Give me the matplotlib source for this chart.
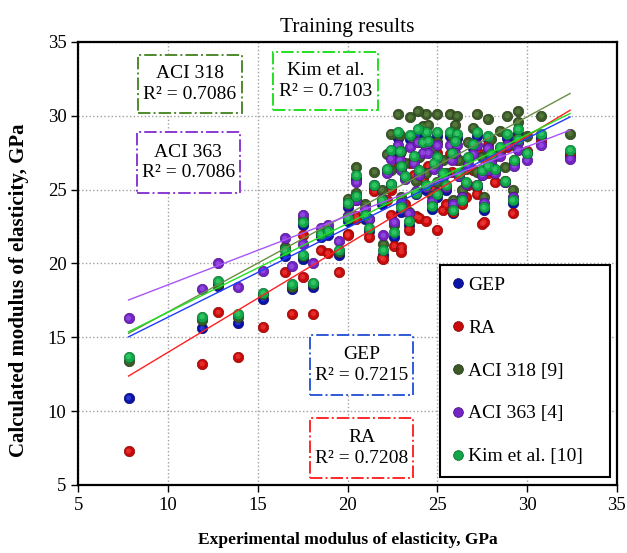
import numpy as np
import matplotlib.pyplot as plt
from matplotlib.lines import Line2D
from matplotlib.patches import Rectangle

plt.rcParams['font.family'] = ['Liberation Serif', 'DejaVu Serif']

# experimental modulus (x) and predictions of each model (GPa)
exp_E = [7.8, 11.9, 12.8, 13.9, 15.3, 16.5, 16.9, 17.5, 17.5, 18.1, 18.5, 18.9, 19.5,
         20.0, 20.0, 20.5, 20.5,
         21.0, 21.5, 21.9, 22.0, 22.4, 22.4, 22.6, 22.8, 22.9, 23.0, 23.0, 23.2, 23.4,
         23.7, 23.8, 24.0, 24.2, 24.4, 24.4, 24.5, 24.7, 25.0, 25.0, 25.0, 25.3, 25.5,
         25.7, 25.8, 26.1, 26.2, 26.4, 26.7, 27.0, 27.2, 27.2, 27.5, 27.6, 27.8, 28.0,
         28.2, 28.5, 28.8, 29.2, 29.3, 29.5, 29.5, 30.0, 30.8, 32.4,
         23.5, 24.8, 26.0, 26.6, 27.8, 22.2, 21.2, 25.9, 28.9, 23.9]
gep = [10.9, 15.6, 18.5, 16.0, 17.6, 20.5, 18.3, 22.6, 20.3, 18.4, 21.8, 21.9, 20.6,
       23.8, 22.9, 25.7, 24.3,
       23.0, 25.1, 24.0, 20.6, 27.4, 25.2, 21.8, 28.5, 27.5, 26.5, 23.5, 25.8, 22.6,
       27.1, 24.7, 26.1, 28.2, 28.5, 25.0, 28.0, 23.7, 28.6, 27.0, 24.5, 25.9, 25.0,
       28.6, 27.4, 28.5, 25.9, 24.1, 27.0, 27.8, 28.6, 25.2, 26.0, 23.6, 28.4, 27.2,
       26.3, 27.8, 25.5, 24.1, 26.8, 28.8, 28.3, 27.5, 28.5, 27.3,
       28.4, 26.6, 28.0, 25.3, 26.5, 26.3, 22.2, 23.4, 28.5, 28.7]
ra = [7.3, 13.2, 16.7, 13.7, 15.7, 19.4, 16.6, 21.9, 19.1, 16.6, 20.9, 20.7, 19.4,
      22.0, 21.9, 23.2, 23.0,
      23.2, 24.9, 20.4, 20.3, 25.0, 23.3, 21.2, 26.5, 27.0, 21.1, 20.8, 24.0, 22.3,
      26.0, 23.2, 23.1, 25.7, 27.8, 22.9, 26.6, 24.0, 27.5, 24.7, 22.3, 23.6, 24.0,
      27.4, 26.2, 27.0, 24.2, 24.0, 25.3, 26.3, 27.6, 24.7, 22.7, 22.8, 28.0, 26.8,
      25.5, 27.5, 25.6, 23.4, 27.0, 28.5, 28.2, 27.6, 28.2, 27.4,
      26.8, 25.0, 27.2, 24.5, 26.1, 24.3, 21.8, 23.5, 27.9, 28.2]
aci318 = [13.4, 16.2, 18.6, 16.4, 17.9, 21.1, 18.4, 23.0, 20.5, 18.6, 22.0, 22.3, 20.8,
          24.4, 23.2, 26.5, 24.8,
          24.0, 26.2, 25.0, 21.3, 28.8, 26.3, 22.6, 30.1, 28.7, 27.6, 24.5, 26.8, 23.5,
          28.3, 25.6, 27.2, 29.3, 30.1, 26.1, 29.4, 24.6, 30.1, 28.2, 25.5, 27.0, 26.1,
          30.1, 28.6, 30.0, 27.0, 25.0, 28.2, 29.2, 30.1, 26.2, 27.2, 24.5, 29.8, 28.4,
          27.3, 29.0, 26.5, 25.0, 28.0, 30.3, 29.6, 28.6, 30.0, 28.8,
          29.9, 27.8, 29.4, 26.4, 27.6, 27.4, 23.0, 24.3, 30.0, 30.3]
aci363 = [16.3, 18.3, 20.0, 18.4, 19.5, 21.7, 19.8, 23.3, 21.3, 20.0, 22.4, 22.6, 21.5,
          24.0, 23.2, 25.5, 24.3,
          23.7, 25.3, 24.4, 21.9, 27.1, 25.4, 22.8, 28.0, 27.0, 26.3, 24.1, 25.7, 23.4,
          26.8, 24.9, 26.0, 27.5, 28.0, 25.2, 27.5, 24.2, 28.0, 26.7, 24.8, 25.9, 25.2,
          28.0, 27.0, 28.0, 25.9, 24.5, 26.7, 27.4, 28.0, 25.3, 26.0, 24.1, 27.8, 26.8,
          26.1, 27.3, 25.5, 24.5, 26.6, 28.2, 27.7, 27.0, 28.0, 27.1,
          27.9, 26.4, 27.5, 25.4, 26.3, 26.1, 23.0, 24.0, 28.0, 28.2]
kim = [13.7, 16.4, 18.8, 16.6, 18.0, 20.9, 18.6, 22.8, 20.6, 18.7, 22.0, 22.2, 20.9,
       24.1, 23.1, 26.0, 24.6,
       23.3, 25.3, 24.3, 20.9, 27.7, 25.4, 22.1, 28.9, 27.6, 26.6, 23.8, 25.9, 22.9,
       27.3, 24.8, 26.3, 28.2, 28.9, 25.3, 28.3, 23.9, 28.9, 27.2, 24.7, 26.1, 25.3,
       28.9, 27.5, 28.8, 26.1, 24.3, 27.2, 28.1, 28.9, 25.3, 26.3, 23.8, 28.6, 27.4,
       26.4, 27.9, 25.6, 24.3, 27.0, 29.1, 28.4, 27.5, 28.8, 27.7,
       28.7, 26.8, 28.3, 25.5, 26.6, 26.4, 22.4, 23.6, 28.8, 29.1]

series = ['GEP', 'RA', 'ACI 318 [9]', 'ACI 363 [4]', 'Kim et al. [10]']
box_names = ['GEP', 'RA', 'ACI 318', 'ACI 363', 'Kim et al.']
r2 = [0.7215, 0.7208, 0.7086, 0.7086, 0.7103]
# linear trendlines (slope, intercept)
slopes = [0.6053, 0.7317, 0.6602, 0.4675, 0.6008]
intercepts = [10.31, 6.67, 10.12, 13.88, 10.69]
fit_range = [7.8, 32.4]

marker_colors = ['#0b12a8', '#c80a0a', '#3c5a28', '#7424c4', '#12a648']
edge_colors = ['#070b70', '#8a0606', '#263a18', '#4c1384', '#0a7030']
light_colors = ['#3a48e0', '#f03a3a', '#5e8244', '#9a55e8', '#3fd070']
line_colors = ['#1f3cff', '#ff2020', '#6a8f45', '#a855f7', '#22e022']
box_colors = ['#2f5bd6', '#ff2a2a', '#4f8a2c', '#8a3ad0', '#22e022']
# box extents in axes fraction: x0, y0, x1, y1
box_pos = [(0.430, 0.203, 0.622, 0.339),
           (0.430, 0.016, 0.622, 0.151),
           (0.111, 0.840, 0.304, 0.971),
           (0.109, 0.659, 0.300, 0.797),
           (0.362, 0.847, 0.557, 0.977)]

fig = plt.figure(figsize=(6.27, 5.53), dpi=100)
ax = fig.add_axes([0.1249, 0.1230, 0.8587, 0.8011])

ys = [gep, ra, aci318, aci363, kim]
for i in range(len(ys)):
    ax.scatter(exp_E, ys[i], s=56, c=marker_colors[i], edgecolors=edge_colors[i],
               linewidths=0.5, zorder=3 + i)
    # small highlight to give the markers a rounded look
    ax.scatter(exp_E, ys[i], s=14, c=light_colors[i], edgecolors='none',
               alpha=0.7, zorder=3.5 + i)

xf = np.array(fit_range)
for i in range(len(ys)):
    ax.plot(xf, slopes[i] * xf + intercepts[i], color=line_colors[i], lw=1.0, zorder=9)

for i in range(len(box_pos)):
    x0, y0, x1, y1 = box_pos[i]
    ax.add_patch(Rectangle((x0, y0), x1 - x0, y1 - y0, transform=ax.transAxes,
                           fc='white', ec=box_colors[i], lw=1.4, ls='-.', zorder=10))
    ax.text((x0 + x1) / 2, (y0 + y1) / 2, '%s\nR² = %.4f' % (box_names[i], r2[i]),
            transform=ax.transAxes, ha='center', va='center', fontsize=14,
            linespacing=1.3, zorder=11)

ax.set_xlim(5, 35)
ax.set_ylim(5, 35)
ax.set_xticks(range(5, 36, 5))
ax.set_yticks(range(5, 36, 5))
ax.grid(True, color='#a0a0a0', ls=':', lw=1.0)
ax.set_axisbelow(True)
ax.tick_params(direction='out', length=5, labelsize=13.5, width=1)
for s in ax.spines.values():
    s.set_linewidth(1.6)

ax.set_title('Training results', fontsize=15.5, pad=7)
ax.set_xlabel('Experimental modulus of elasticity, GPa', fontsize=12.5,
              fontweight='bold', labelpad=13)
ax.set_ylabel('Calculated modulus of elasticity, GPa', fontsize=15,
              fontweight='bold')
ax.yaxis.set_label_coords(-0.092, 0.44)

handles = [Line2D([], [], ls='none', marker='o', ms=7, mfc=marker_colors[i],
                  mec=edge_colors[i], mew=0.6) for i in range(len(series))]
leg = ax.legend(handles, series, loc='lower left',
                bbox_to_anchor=(0.672, 0.018, 0.316, 0.508), mode='expand',
                borderaxespad=0, fontsize=14, labelspacing=1.3, borderpad=0.6,
                handlelength=0.6, handletextpad=0.25, fancybox=False,
                framealpha=1, edgecolor='black')
leg.get_frame().set_linewidth(1.5)
leg.set_zorder(20)

plt.savefig('out.png', dpi=100)
